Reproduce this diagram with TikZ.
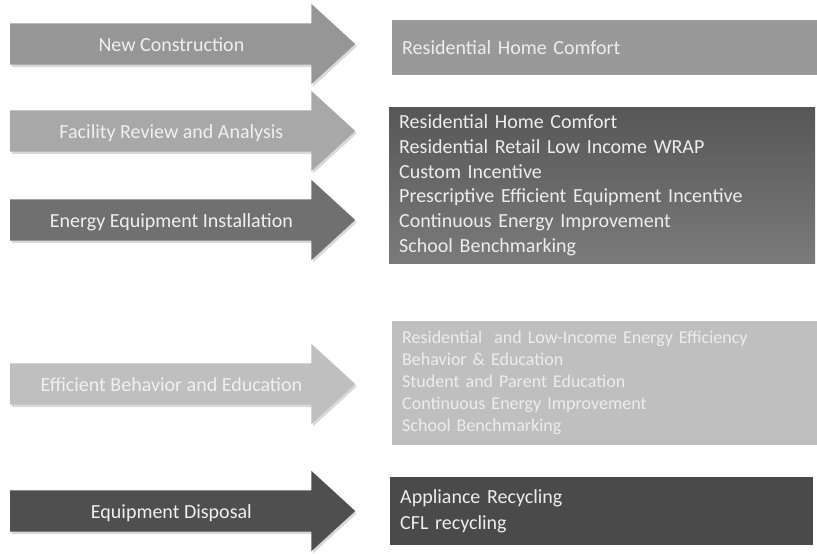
\documentclass[tikz,border=0pt]{standalone}
\usepackage{fontspec}
\setmainfont{Carlito}
\usetikzlibrary{shapes.arrows,shadows}

\begin{document}
\begin{tikzpicture}
  [x=1pt,y=-1pt,
   arw/.style={single arrow,single arrow head extend=19.5pt,single arrow tip angle=85,
     minimum height=345pt,inner ysep=11.5pt,text height=16pt,text depth=2pt,anchor=tail,
     text=white!94!black,font=\fontsize{20}{22}\selectfont,
     drop shadow={opacity=.3,shadow xshift=1.5pt,shadow yshift=-2.5pt}},
   box/.style={anchor=north west,align=left,inner xsep=10pt,inner ysep=0pt,
     text=white!93!black,font=\fontsize{20}{24.8}\selectfont}]
  \useasboundingbox (0,0) rectangle (817,554);

  % arrows on the left
  \node[arw,fill=black!41] (newc) at (10,44) {New Construction};
  \node[arw,fill=black!34] (facr) at (10,131) {Facility Review and Analysis};
  \node[arw,fill=black!56] (eqin) at (10,220) {Energy Equipment Installation};
  \node[arw,fill=black!25] (effb) at (10,384) {Efficient Behavior and Education};
  \node[arw,fill=black!69] (eqdi) at (10,511) {Equipment Disposal};

  % program boxes on the right
  \node[box,fill=black!40,text width=405pt,minimum height=55pt] (homec) at (392,20)
    {Residential Home Comfort};
  \node[box,top color=black!66,bottom color=black!52,text width=406pt,minimum height=156pt] (progs) at (389,107)
    {Residential Home Comfort\\Residential Retail Low Income WRAP\\Custom Incentive\\
     Prescriptive Efficient Equipment Incentive\\Continuous Energy Improvement\\School Benchmarking};
  \node[box,fill=black!25,text width=405pt,minimum height=124pt,
    font=\fontsize{18}{22}\selectfont] (educ) at (392,321)
    {Residential\ \ and Low-Income Energy Efficiency\\Behavior \& Education\\
     Student and Parent Education\\Continuous Energy Improvement\\School Benchmarking};
  \node[box,fill=black!71,text width=403pt,minimum height=68pt,
    font=\fontsize{20}{26}\selectfont] (recyc) at (390,477)
    {Appliance Recycling\\CFL recycling};
\end{tikzpicture}
\end{document}
